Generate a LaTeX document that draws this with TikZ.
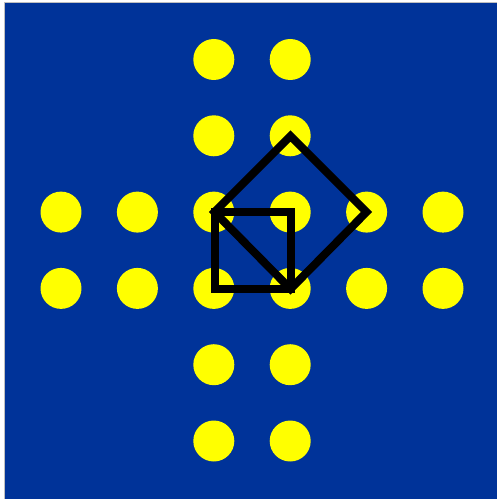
\documentclass[tikz,border=0pt]{standalone}
\usetikzlibrary{positioning}
\definecolor{bgblue}{RGB}{0,51,153}
\definecolor{dotyellow}{RGB}{255,255,0}

\begin{document}
\begin{tikzpicture}[x=0.02cm,y=-0.02cm,
  dot/.style={circle, fill=dotyellow, inner sep=0pt, minimum size=0.82cm},
  frame/.style={draw=black, line width=0.16cm, miter limit=10}]
\useasboundingbox (0,0) rectangle (497,499);
\fill[bgblue] (5,2) rectangle (497,499);
\draw[black!25, line width=0.3pt] (4.5,499) -- (4.5,2.5) -- (497,2.5);
% dots: the two middle columns, then the two middle rows
\foreach \i in {2,3}
  \foreach \j in {0,...,5}
    \node[dot] (d\i\j) at ({61+76.4*\i},{59.5+76.3*\j}) {};
\foreach \i in {0,1,4,5}
  \foreach \j in {2,3}
    \node[dot] (d\i\j) at ({61+76.4*\i},{59.5+76.3*\j}) {};
% corners of the squares
\coordinate (a) at (214.5,212);
\coordinate (b) at (290.5,212);
\coordinate (c) at (290.5,289);
\coordinate (d) at (214.5,289);
\coordinate (t) at (290.5,136);
\coordinate (r) at (366.5,212);
\draw[frame] (a) -- (b) -- (c) -- (d) -- cycle;
\draw[frame] (a) -- (t) -- (r) -- (c) -- cycle;
\end{tikzpicture}
\end{document}
